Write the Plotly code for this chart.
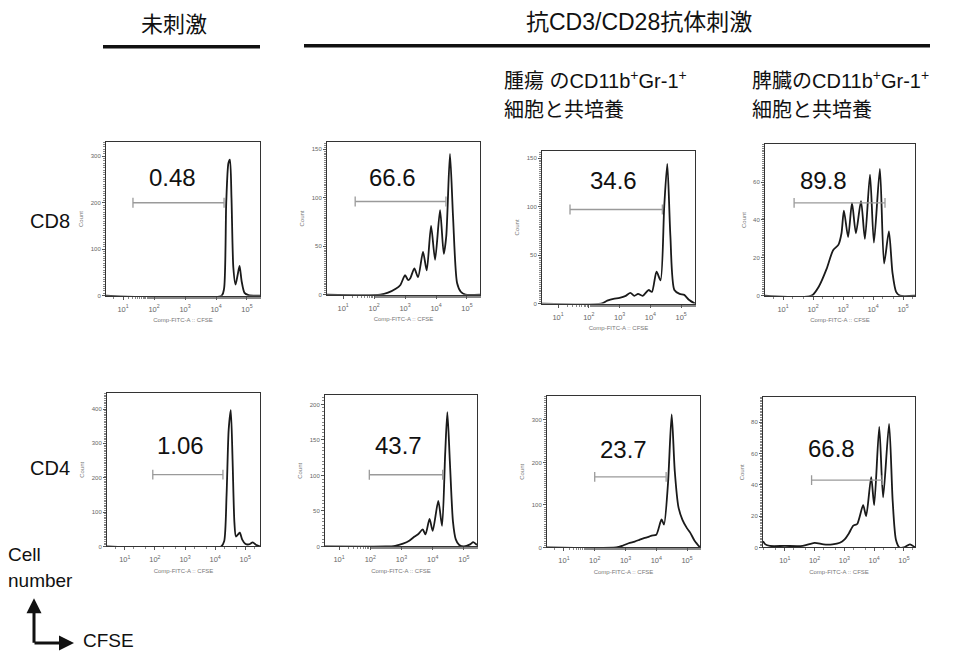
import plotly.graph_objects as go

W, H = 964, 656

# ---------------- data (log10 CFSE intensity, cell count) ----------------
cd8_unstim_log = [0.45, 4.18, 4.26, 4.33, 4.40, 4.45, 4.50, 4.56, 4.63, 4.70, 4.76, 4.83, 4.92, 5.05, 5.42]
cd8_unstim_cnt = [0, 0, 15, 200, 285, 293, 210, 60, 24, 45, 64, 30, 6, 1, 0]

cd8_stim_log = [0.48, 2.2, 2.45, 2.7, 2.85, 3.0, 3.1, 3.17, 3.3, 3.42, 3.58, 3.7, 3.84, 3.97, 4.13, 4.25, 4.33, 4.45, 4.55, 4.68, 4.8, 4.95, 5.42]
cd8_stim_cnt = [0, 0, 2, 6, 10, 20, 15, 17, 27, 18, 44, 25, 71, 36, 87, 42, 60, 145, 80, 12, 3, 0, 0]

cd8_tumor_log = [0.48, 2.4, 2.6, 2.8, 3.0, 3.2, 3.35, 3.48, 3.6, 3.75, 3.94, 4.05, 4.2, 4.33, 4.45, 4.55, 4.65, 4.78, 4.95, 5.1, 5.25, 5.45]
cd8_tumor_cnt = [0, 0, 3, 5, 6, 8, 11, 8, 10, 8, 14, 12, 33, 24, 100, 144, 70, 14, 10, 9, 4, 0]

cd8_spleen_log = [0.4, 1.95, 2.2, 2.45, 2.67, 2.85, 2.95, 3.03, 3.17, 3.3, 3.43, 3.6, 3.73, 3.9, 4.03, 4.23, 4.37, 4.53, 4.65, 4.77, 4.9, 5.4]
cd8_spleen_cnt = [0, 0, 5, 14, 24, 27, 33, 45, 31, 49, 33, 50, 30, 64, 28, 67, 17, 34, 12, 2, 0, 0]

cd4_unstim_log = [0.41, 4.2, 4.3, 4.38, 4.45, 4.52, 4.58, 4.64, 4.69, 4.76, 4.82, 4.9, 5.0, 5.12, 5.25, 5.35, 5.49]
cd4_unstim_cnt = [0, 0, 15, 150, 340, 397, 250, 70, 29, 35, 40, 20, 8, 6, 12, 5, 0]

cd4_stim_log = [0.55, 2.5, 2.8, 3.05, 3.25, 3.42, 3.55, 3.68, 3.77, 3.9, 4.0, 4.18, 4.3, 4.4, 4.47, 4.55, 4.65, 4.74, 4.85, 5.0, 5.2, 5.3, 5.42]
cd4_stim_cnt = [0, 0, 1, 4, 8, 14, 18, 24, 17, 39, 22, 64, 29, 130, 189, 120, 35, 10, 2, 0, 3, 6, 2]

cd4_tumor_log = [0.45, 2.7, 2.9, 3.1, 3.3, 3.45, 3.6, 3.75, 3.85, 4.0, 4.17, 4.25, 4.38, 4.5, 4.6, 4.72, 4.85, 5.0, 5.1, 5.25, 5.42]
cd4_tumor_cnt = [0, 0, 4, 10, 14, 18, 22, 25, 28, 30, 66, 54, 150, 313, 180, 95, 65, 45, 35, 15, 0]

cd4_spleen_log = [0.27, 0.35, 0.5, 1.0, 1.6, 2.0, 2.3, 2.6, 2.85, 3.0, 3.15, 3.3, 3.43, 3.63, 3.73, 3.9, 4.0, 4.17, 4.3, 4.5, 4.62, 4.73, 4.85, 5.0, 5.2, 5.37]
cd4_spleen_cnt = [4, 2, 1, 1, 1, 3, 2, 2, 3, 5, 9, 14, 15, 27, 20, 45, 27, 77, 32, 79, 30, 5, 0, 0, 2, 0]

# gate bars (log10 low, log10 high, count level) and their percentages
gate_lo = [1.32, 1.39, 1.39, 1.37, 1.93, 1.97, 2.00, 1.90]
gate_hi = [4.26, 4.32, 4.39, 4.40, 4.26, 4.32, 4.32, 4.27]
gate_y = [200, 96, 97, 49, 209, 101, 166, 43]
pct_labels = ["0.48", "66.6", "34.6", "89.8", "1.06", "43.7", "23.7", "66.8"]

# axis ticks
x_tick_exp = [1, 2, 3, 4, 5]
y_ticks = [
    [0, 100, 200, 300],
    [0, 50, 100, 150],
    [0, 50, 100, 150],
    [0, 20, 40, 60],
    [0, 100, 200, 300, 400],
    [0, 50, 100, 150, 200],
    [0, 100, 200, 300],
    [0, 20, 40, 60, 80],
]

# text
col_headers = ["未刺激", "抗CD3/CD28抗体刺激"]
sub_headers = [["腫瘍 のCD11b<sup>+</sup>Gr-1<sup>+</sup>", "細胞と共培養"],
               ["脾臓のCD11b<sup>+</sup>Gr-1<sup>+</sup>", "細胞と共培養"]]
row_labels = ["CD8", "CD4"]
x_axis_title = "Comp-FITC-A :: CFSE"
y_axis_title = "Count"

series_log = [cd8_unstim_log, cd8_stim_log, cd8_tumor_log, cd8_spleen_log,
              cd4_unstim_log, cd4_stim_log, cd4_tumor_log, cd4_spleen_log]
series_cnt = [cd8_unstim_cnt, cd8_stim_cnt, cd8_tumor_cnt, cd8_spleen_cnt,
              cd4_unstim_cnt, cd4_stim_cnt, cd4_tumor_cnt, cd4_spleen_cnt]

# ---------------- layout (pixel boxes) ----------------
boxes = [(106, 260, 143, 297), (327, 480, 143, 296), (542, 695, 152, 305), (765, 915, 145, 297),
         (107, 260, 395, 549), (325, 477, 397, 549), (547, 700, 398, 550), (763, 915, 399, 550)]
x_ranges = [(0.45, 5.42), (0.48, 5.42), (0.48, 5.45), (0.40, 5.40),
            (0.41, 5.49), (0.55, 5.42), (0.45, 5.42), (0.27, 5.37)]
y_tops = [330, 157, 157, 80, 446, 213, 356, 96]
label_px = [(172, 178), (392, 178), (613, 181), (823, 181),
            (180, 448), (398, 448), (623, 452), (831, 451)]

LATIN = "Liberation Sans, Arial, Noto Sans CJK JP"
CJK = "Noto Sans CJK JP, Liberation Sans"

def px(x):
    return x / W

def py(y):
    return 1 - y / H

fig = go.Figure()
annotations = []
shapes = []
layout_axes = {}

for i in range(8):
    ax_id = "" if i == 0 else str(i + 1)
    xa, ya = "x" + ax_id, "y" + ax_id
    xs = [10 ** v for v in series_log[i]]
    fig.add_trace(go.Scatter(
        x=xs, y=series_cnt[i], xaxis=xa, yaxis=ya, mode="lines",
        line=dict(color="#1a1a1a", width=1.8, shape="spline", smoothing=0.7),
        hoverinfo="skip", showlegend=False))
    fig.add_trace(go.Scatter(
        x=[10 ** gate_lo[i], 10 ** gate_hi[i]], y=[gate_y[i], gate_y[i]],
        xaxis=xa, yaxis=ya, mode="lines+markers",
        line=dict(color="#9a9a9a", width=1.3),
        marker=dict(symbol="line-ns-open", size=7, color="#9a9a9a", line=dict(width=1.3, color="#9a9a9a")),
        hoverinfo="skip", showlegend=False))
    l, r, t, b = boxes[i]
    layout_axes["xaxis" + ax_id] = dict(
        domain=[px(l), px(r)], anchor=ya, type="log",
        range=list(x_ranges[i]),
        tickvals=[10 ** e for e in x_tick_exp],
        ticktext=["10<sup>%d</sup>" % e for e in x_tick_exp],
        ticks="outside", ticklen=3, tickcolor="#555", tickwidth=1,
        ticklabelstandoff=3,
        tickfont=dict(size=7.5, color="#666", family=LATIN),
        minor=dict(ticks="outside", ticklen=2, tickcolor="#888", showgrid=False),
        showline=True, linecolor="#333", linewidth=1, mirror=True,
        showgrid=False, zeroline=False,
        title=dict(text=x_axis_title, font=dict(size=6, color="#777", family=LATIN), standoff=5),
        fixedrange=True)
    layout_axes["yaxis" + ax_id] = dict(
        domain=[py(b), py(t)], anchor=xa,
        range=[0, y_tops[i]],
        tickvals=y_ticks[i],
        ticks="outside", ticklen=3, tickcolor="#555", tickwidth=1,
        tickfont=dict(size=6, color="#666", family=LATIN),
        minor=dict(ticks="outside", ticklen=2, tickcolor="#888", nticks=20, showgrid=False),
        showline=True, linecolor="#333", linewidth=1, mirror=True,
        showgrid=False, zeroline=False,
        title=dict(text=y_axis_title, font=dict(size=6, color="#777", family=LATIN), standoff=6),
        fixedrange=True)
    lx, ly = label_px[i]
    annotations.append(dict(x=px(lx), y=py(ly), xref="paper", yref="paper",
                            text=pct_labels[i], showarrow=False,
                            xanchor="center", yanchor="middle",
                            font=dict(size=24, color="#111", family=LATIN)))

# column headers and bars
annotations.append(dict(x=px(174), y=py(22), xref="paper", yref="paper", text=col_headers[0],
                        showarrow=False, xanchor="center", yanchor="middle",
                        font=dict(size=22, color="#111", family=CJK)))
annotations.append(dict(x=px(639), y=py(22), xref="paper", yref="paper", text=col_headers[1],
                        showarrow=False, xanchor="center", yanchor="middle",
                        font=dict(size=23, color="#111", family=LATIN)))
shapes.append(dict(type="line", xref="paper", yref="paper", x0=px(103), x1=px(260),
                   y0=py(47), y1=py(47), line=dict(color="#111", width=3.5)))
shapes.append(dict(type="line", xref="paper", yref="paper", x0=px(304), x1=px(930),
                   y0=py(46), y1=py(46), line=dict(color="#111", width=3.5)))

# sub headers
for j, x0 in enumerate([502, 750]):
    annotations.append(dict(x=px(x0), y=py(80), xref="paper", yref="paper", text=sub_headers[j][0],
                            showarrow=False, xanchor="left", yanchor="middle",
                            font=dict(size=20, color="#111", family=LATIN)))
    annotations.append(dict(x=px(x0), y=py(109), xref="paper", yref="paper", text=sub_headers[j][1],
                            showarrow=False, xanchor="left", yanchor="middle",
                            font=dict(size=20, color="#111", family=CJK)))

# row labels
for lbl, yy in zip(row_labels, [222, 470]):
    annotations.append(dict(x=px(28), y=py(yy), xref="paper", yref="paper", text=lbl,
                            showarrow=False, xanchor="left", yanchor="middle",
                            font=dict(size=20, color="#111", family=LATIN)))

# Cell number / CFSE legend
annotations.append(dict(x=px(6), y=py(557), xref="paper", yref="paper", text="Cell",
                        showarrow=False, xanchor="left", yanchor="middle",
                        font=dict(size=19, color="#111", family=LATIN)))
annotations.append(dict(x=px(6), y=py(583), xref="paper", yref="paper", text="number",
                        showarrow=False, xanchor="left", yanchor="middle",
                        font=dict(size=19, color="#111", family=LATIN)))
annotations.append(dict(x=px(81), y=py(643), xref="paper", yref="paper", text="CFSE",
                        showarrow=False, xanchor="left", yanchor="middle",
                        font=dict(size=19, color="#111", family=LATIN)))
annotations.append(dict(x=px(34), y=py(601), xref="paper", yref="paper", text="",
                        showarrow=True, ax=0, ay=46, axref="pixel", ayref="pixel",
                        arrowhead=2, arrowsize=1, arrowwidth=3, arrowcolor="#111"))
annotations.append(dict(x=px(74), y=py(646), xref="paper", yref="paper", text="",
                        showarrow=True, ax=-41, ay=0, axref="pixel", ayref="pixel",
                        arrowhead=2, arrowsize=1, arrowwidth=3, arrowcolor="#111"))

fig.update_layout(
    width=W, height=H, margin=dict(l=0, r=0, t=0, b=0),
    paper_bgcolor="white", plot_bgcolor="white",
    showlegend=False, annotations=annotations, shapes=shapes,
    **layout_axes)

fig.write_html("out.html", config={"displayModeBar": False})
